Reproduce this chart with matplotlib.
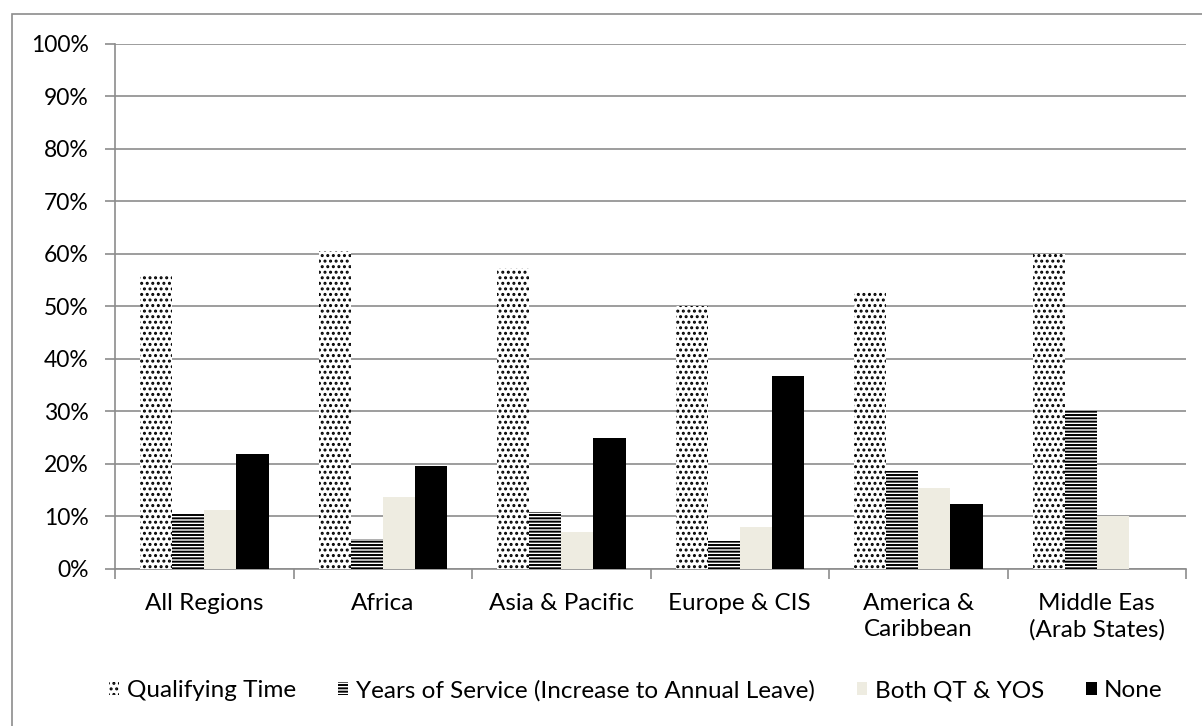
import matplotlib.pyplot as plt
import numpy as np
from matplotlib.patches import Rectangle

plt.rcParams.update({
    "font.family": ["Lato", "DejaVu Sans"],
    "font.size": 17.5,
    "hatch.linewidth": 1.4,
})

regions = ["All Regions", "Africa", "Asia & Pacific", "Europe & CIS",
           "America &\nCaribbean", "Middle Eas\n(Arab States)"]

qualifying_time = [56.0, 60.5, 57.3, 50.0, 53.0, 60.0]
years_of_service = [10.6, 5.8, 10.8, 5.3, 18.7, 30.0]
both_qt_yos = [11.3, 13.7, 7.1, 8.0, 15.5, 10.0]
none = [21.9, 19.6, 25.0, 36.8, 12.4, 0.0]

series_labels = ["Qualifying Time", "Years of Service (Increase to Annual Leave)",
                 "Both QT & YOS", "None"]

grid_gray = "#8c8c8c"

fig = plt.figure(figsize=(12.02, 7.26), dpi=100)
ax = fig.add_axes([0.0957, 0.2163, 0.8910, 0.7231])

# outer chart frame
fig.patches.append(Rectangle((12 / 1202, -0.05), 1.2, 1 - 14 / 726 + 0.05,
                             transform=fig.transFigure, fill=False,
                             edgecolor=grid_gray, linewidth=1.2))

x = np.arange(len(regions))
w = 0.18
offsets = [-1.5 * w, -0.5 * w, 0.5 * w, 1.5 * w]

styles = [
    dict(facecolor="white", hatch="...", edgecolor="black", linewidth=0),
    dict(facecolor="white", hatch="-----", edgecolor="black", linewidth=0),
    dict(facecolor="#eeece1", edgecolor="#eeece1", linewidth=0),
    dict(facecolor="black", edgecolor="black", linewidth=0),
]

handles = []
for vals, off, st, lab in zip([qualifying_time, years_of_service, both_qt_yos, none],
                              offsets, styles, series_labels):
    b = ax.bar(x + off, vals, w, label=lab, zorder=3, **st)
    handles.append(b)

ax.set_xlim(-0.5, len(regions) - 0.5)
ax.set_ylim(0, 100)
ax.set_yticks(np.arange(0, 101, 10))
ax.set_yticklabels([f"{v}%" for v in range(0, 101, 10)], fontsize=16.5)
ax.yaxis.grid(True, color=grid_gray, linewidth=1.2, zorder=0)
ax.set_axisbelow(True)

# category labels centred, tick marks at group boundaries
ax.set_xticks(x)
ax.set_xticklabels(regions, linespacing=1.3)
ax.tick_params(axis="x", length=0, pad=17)
ax.set_xticks(np.arange(-0.5, len(regions)), minor=True)
ax.tick_params(axis="x", which="minor", length=7, color=grid_gray, width=1.2)
ax.tick_params(axis="y", length=7, color=grid_gray, width=1.2, pad=12)

for side in ["top", "right"]:
    ax.spines[side].set_visible(False)
for side in ["left", "bottom"]:
    ax.spines[side].set_color(grid_gray)
    ax.spines[side].set_linewidth(1.2)

fig.legend(handles=handles, labels=series_labels, loc="center",
           bbox_to_anchor=(0.529, 0.049), ncol=4, frameon=False,
           handlelength=0.42, handleheight=0.42, handletextpad=0.3,
           columnspacing=1.75, fontsize=17.5)

fig.savefig("out.png", dpi=100)
